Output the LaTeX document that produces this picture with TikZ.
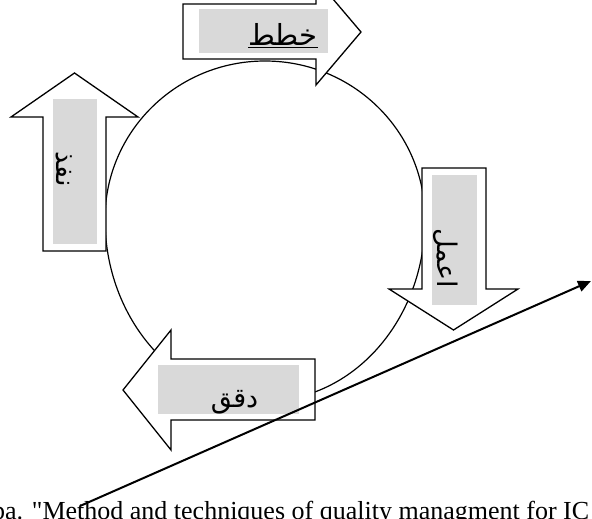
\documentclass[tikz,border=0pt]{standalone}
\usepackage{fontspec}
\newfontfamily\captionfont{Liberation Serif}
\newfontfamily\arabicfont[Script=Arabic]{DejaVu Sans}
\TeXXeTstate=1
\usetikzlibrary{arrows.meta}

\tikzset{
  blockarrow/.style={draw=black, fill=white, line width=1.3pt, line join=miter},
  labelpanel/.style={fill=black!15},
  cycleline/.style={draw=black, line width=1.2pt},
  arlabel/.style={font=\arabicfont\fontsize{27}{31}\selectfont, inner sep=0pt},
  trendline/.style={line width=2pt, -{Triangle[length=13pt,width=11pt]}},
  caption/.style={font=\captionfont\fontsize{26}{30}\selectfont, inner sep=0pt, anchor=base west}
}

\begin{document}
\begin{tikzpicture}[x=1pt,y=-1pt]
\useasboundingbox (0,0) rectangle (592,519);
\clip (0,0) rectangle (592,519);

% the PDCA loop
\path[cycleline] (105,219)
  .. controls (105,131.7) and (176.6,61) .. (265,61)
  .. controls (353.4,61) and (425,131.7) .. (425,219)
  .. controls (425,319.5) and (353.4,401) .. (265,401)
  .. controls (176.6,401) and (105,319.5) .. (105,219) -- cycle;

% plan: arrow pointing right
\path[blockarrow] (183,4) -- (316,4) -- (316,-21) -- (361,32) -- (316,85) -- (316,59) -- (183,59) -- cycle;
\fill[labelpanel] (199,9) rectangle (328,53);
\node[arlabel, font=\arabicfont\fontsize{29}{33}\selectfont, anchor=base] (plan) at (283,46) {\underline{\hbox{\beginR خطط\endR}}};

% do: arrow pointing down
\path[blockarrow] (422,168) -- (486,168) -- (486,289) -- (518,289) -- (453.5,330) -- (389,289) -- (422,289) -- cycle;
\fill[labelpanel] (432,175) rectangle (477,305);
\node[arlabel, anchor=base, rotate=-90] (do) at (437,258) {\beginR اعمل\endR};

% check: arrow pointing left
\path[blockarrow] (315,359) -- (171,359) -- (171,330) -- (123,390) -- (171,450) -- (171,420) -- (315,420) -- cycle;
\fill[labelpanel] (158,365) rectangle (299,414);
\node[arlabel, anchor=base] (check) at (234.5,407) {\beginR دقق\endR};

% act: arrow pointing up
\path[blockarrow] (43,251) -- (43,117) -- (11,117) -- (74.5,73) -- (138,117) -- (106,117) -- (106,251) -- cycle;
\fill[labelpanel] (53,99) rectangle (97,244);
\node[arlabel, anchor=base, rotate=-90] (act) at (56,169) {\beginR نفذ\endR};

% rising improvement line
\coordinate (trendstart) at (80,506);
\coordinate (trendend) at (591,281);
\draw[trendline] (trendstart) -- (trendend);

% source line
\node[caption] (source) at (-8,519.5) {pa. "Method and techniques of quality managment for IC};
\end{tikzpicture}
\end{document}
